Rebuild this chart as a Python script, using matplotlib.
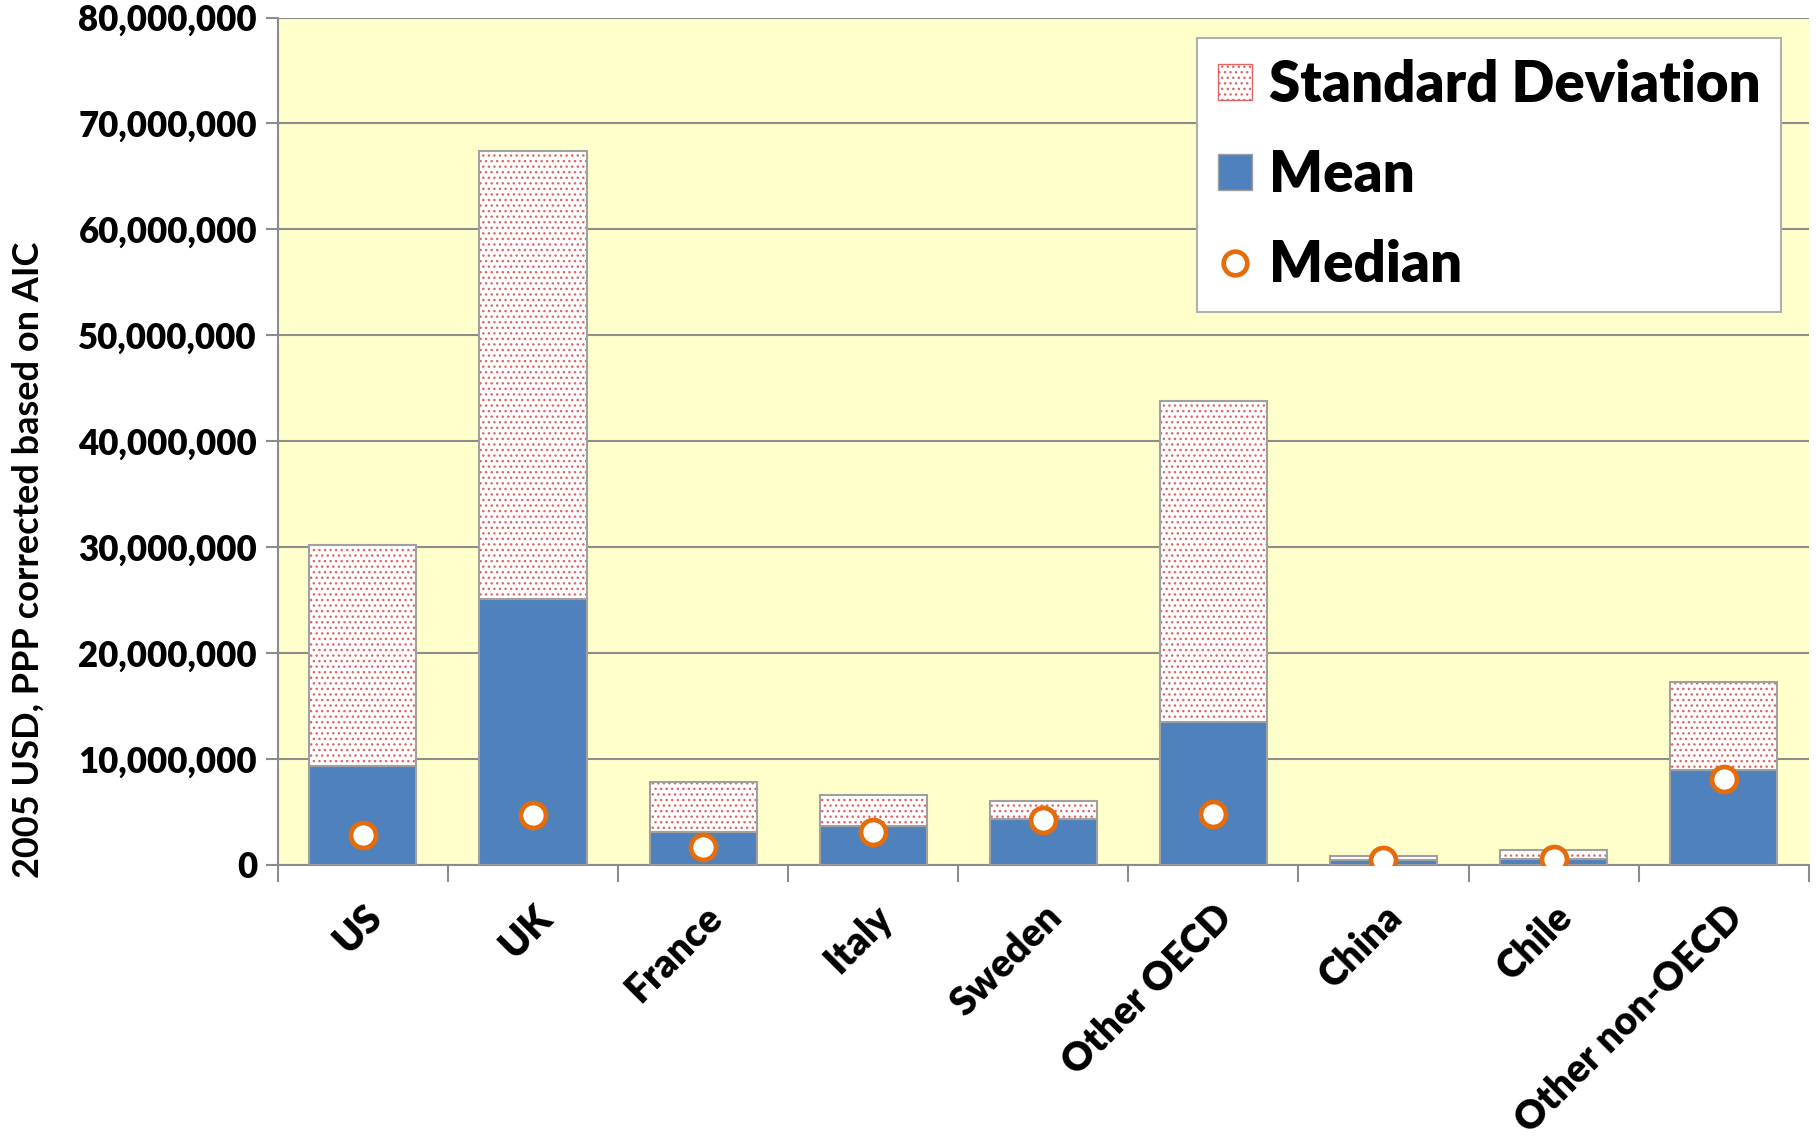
import matplotlib.pyplot as plt
from matplotlib.lines import Line2D
from matplotlib.patches import Patch
from matplotlib.ticker import FuncFormatter, FixedLocator

plt.rcParams['font.family'] = ['Lato', 'DejaVu Sans']
plt.rcParams['font.weight'] = 'heavy'

regions = ["US", "UK", "France", "Italy", "Sweden", "Other OECD", "China", "Chile", "Other non-OECD"]
mean_vals = [9.35e6, 25.1e6, 3.15e6, 3.7e6, 4.35e6, 13.5e6, 0.45e6, 0.57e6, 8.93e6]
total_vals = [30.2e6, 67.4e6, 7.8e6, 6.6e6, 6.0e6, 43.8e6, 0.87e6, 1.38e6, 17.24e6]
sd_vals = [t - m for t, m in zip(total_vals, mean_vals)]
median_vals = [2.8e6, 4.7e6, 1.7e6, 3.15e6, 4.2e6, 4.8e6, 0.45e6, 0.6e6, 8.15e6]

fig = plt.figure(figsize=(18.16, 11.39), dpi=100)
ax = fig.add_axes([0.153, 0.2406, 0.843, 0.744])
ax.set_facecolor('#FFFFCC')

x = list(range(len(regions)))
w = 0.63
edge = '#A0A0A0'

ax.bar(x, mean_vals, w, color='#4F81BD', edgecolor=edge, linewidth=1.5, zorder=3)
# dotted fill for the standard deviation part
ax.bar(x, sd_vals, w, bottom=mean_vals, color='white', edgecolor='#E06666',
       hatch='...', linewidth=0, zorder=3)
ax.bar(x, sd_vals, w, bottom=mean_vals, fill=False, edgecolor=edge, linewidth=1.5, zorder=4)
ax.plot(x, median_vals, 'o', ms=18, mfc='white', mec='#E46C0A', mew=3.4, zorder=5)

ax.set_xlim(-0.5, len(regions) - 0.5)
ax.set_ylim(0, 80e6)
ax.yaxis.set_major_locator(FixedLocator([i * 10e6 for i in range(9)]))
ax.yaxis.set_major_formatter(FuncFormatter(lambda v, p: f"{int(v):,}"))
ax.grid(axis='y', color='#8C8C8C', linewidth=1.5, zorder=0)
ax.set_axisbelow(True)

for s in ['top', 'right']:
    ax.spines[s].set_visible(False)
for s in ['left', 'bottom']:
    ax.spines[s].set_color('#8C8C8C')
    ax.spines[s].set_linewidth(1.5)

ax.tick_params(axis='y', labelsize=25, length=9, width=1.5, color='#8C8C8C', pad=6)
ax.set_xticks(x)
ax.set_xticklabels(regions, rotation=45, ha='right', va='top', rotation_mode='anchor', fontsize=28)
ax.tick_params(axis='x', length=0, pad=24)
ax.set_xticks([i - 0.5 for i in range(len(regions) + 1)], minor=True)
ax.tick_params(axis='x', which='minor', length=12, width=1.5, color='#8C8C8C')

ax.set_ylabel("2005 USD, PPP corrected based on AIC", fontsize=26, fontweight='bold')
ax.yaxis.set_label_coords(-0.152, 0.36)

handles = [Patch(facecolor='white', edgecolor='#E06666', hatch='...', label='Standard Deviation'),
           Patch(facecolor='#4F81BD', edgecolor=edge, label='Mean'),
           Line2D([], [], marker='o', ls='', ms=17, mfc='white', mec='#E46C0A', mew=3.4, label='Median')]
leg = ax.legend(handles=handles, loc='upper right', bbox_to_anchor=(0.982, 0.976), fontsize=40.5,
                frameon=True, fancybox=False, edgecolor='#B0B0B0', framealpha=1,
                handlelength=0.6, handleheight=0.6, handletextpad=0.3, labelspacing=0.68,
                borderpad=0.37, borderaxespad=0)
leg.get_frame().set_linewidth(1.5)

fig.savefig("out.png", dpi=100)
